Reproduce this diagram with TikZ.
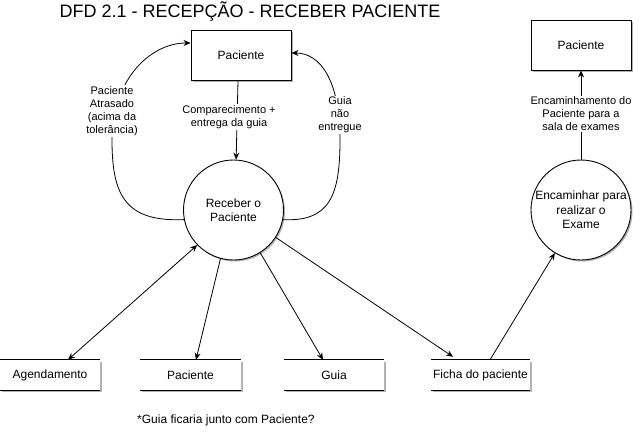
\documentclass[tikz,border=0pt]{standalone}
\usepackage{fontspec}
\setmainfont{Liberation Sans}
\usetikzlibrary{arrows.meta,shadows,calc}
\tikzset{
 shad/.style={drop shadow={shadow xshift=1.5pt,shadow yshift=-1.5pt,opacity=0.3,fill=black}},
 ent/.style={draw, line width=0.9pt, fill=white, minimum width=100pt, minimum height=50pt, inner sep=0pt, font=\fontsize{12}{14}\selectfont, shad},
 proc/.style={draw, circle, line width=0.9pt, fill=white, minimum size=100pt, inner sep=0pt, align=center, font=\fontsize{12}{14.5}\selectfont, shad},
 store/.style={fill=white, minimum height=30pt, inner sep=0pt, font=\fontsize{12}{14}\selectfont, shad},
 storeline/.style={line width=0.9pt},
 lbl/.style={fill=white, inner sep=1pt, align=center, font=\fontsize{11}{13}\selectfont},
 flow/.style={line width=0.8pt, -{Stealth[length=7pt,width=6pt]}},
 flow2/.style={line width=0.8pt, {Stealth[length=7pt,width=6pt]}-{Stealth[length=7pt,width=6pt]}},
}
\begin{document}
\begin{tikzpicture}[x=1pt,y=-1pt]
\useasboundingbox (0,0) rectangle (642,442);

% title
\node[font=\fontsize{18}{20}\selectfont, inner sep=0pt] (title) at (250,12) {DFD 2.1 - RECEPÇÃO - RECEBER PACIENTE};

% entities and processes
\node[ent] (pt) at (241,55) {Paciente};
\node[ent] (pr) at (581,45) {Paciente};
\node[proc] (recv) at (233.5,210) {Receber o\\Paciente};
\node[proc] (enc) at (581,210) {Encaminhar para\\realizar o\\Exame};

% stores
\node[store, minimum width=100pt] (ag) at (50,375) {Agendamento};
\node[store, minimum width=101pt] (pst) at (190.5,375) {Paciente};
\node[store, minimum width=100pt] (guia) at (334,375) {Guia};
\node[store, minimum width=99pt] (ficha) at (480.5,375) {Ficha do paciente};
\foreach \n in {ag,pst,guia,ficha}{
  \draw[storeline] (\n.north west) -- (\n.north east) (\n.south west) -- (\n.south east);
}

% flows top
\draw[flow] (recv.191) .. controls (125,222) and (112,195) .. (112,140) .. controls (112,80) and (150,43) .. ([yshift=12pt]pt.west);
\draw[flow] (recv.349) .. controls (330,222) and (340,195) .. (340,140) .. controls (340,80) and (320,53) .. ([yshift=2pt]pt.east);
\draw[flow] ([xshift=-3pt]pt.south) -- (recv.87);
\draw[flow] (enc.north) -- (pr.south);

% flow labels
\node[lbl] (l1) at (112,111) {Paciente\\Atrasado\\(acima da\\tolerância)};
\node[lbl] (l2) at (229,117) {Comparecimento +\\entrega da guia};
\node[lbl] (l3) at (340,115) {Guia\\não\\entregue};
\node[lbl] (l4) at (581,114) {Encaminhamento do\\Paciente para a\\sala de exames};

% flows bottom
\draw[flow2] ([xshift=18pt]ag.north) -- (recv.224);
\draw[flow] (recv.255) -- ([xshift=5.5pt]pst.north);
\draw[flow] (recv.302) -- ([xshift=-11pt]guia.north);
\draw[flow] (recv.327) -- ([xshift=-27.5pt,yshift=3pt]ficha.north);
\draw[flow] ([xshift=9.5pt]ficha.north) -- (enc);

% note
\node[anchor=west, inner sep=0pt, font=\fontsize{12}{14}\selectfont] (note) at (137,420) {*Guia ficaria junto com Paciente?};
\end{tikzpicture}
\end{document}
